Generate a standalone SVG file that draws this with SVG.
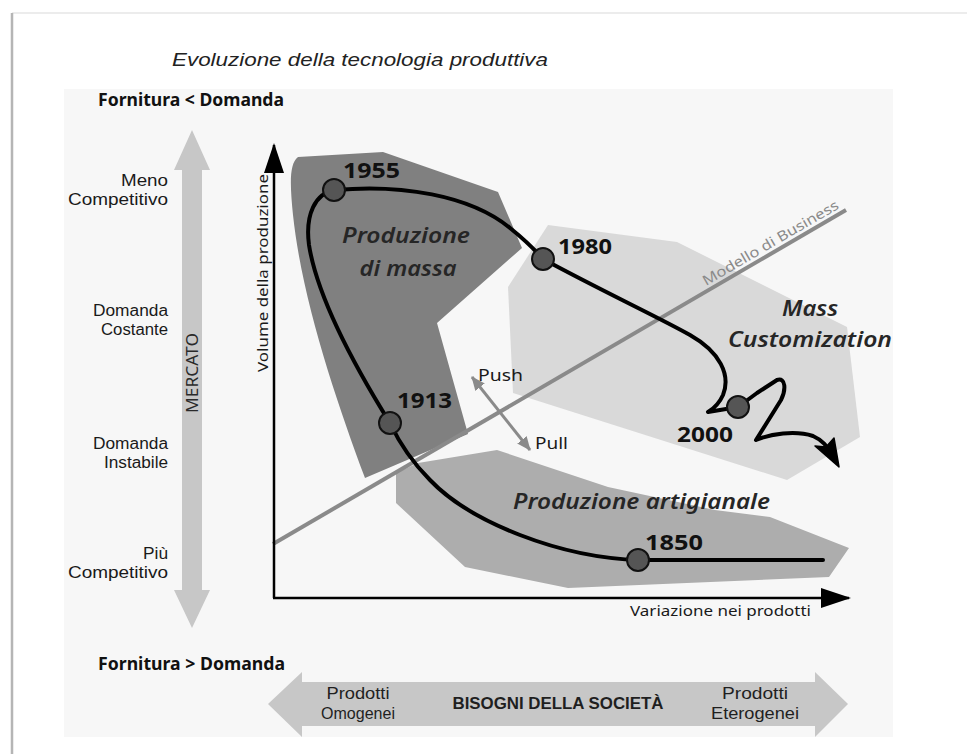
<svg xmlns="http://www.w3.org/2000/svg" width="967" height="754" viewBox="0 0 967 754">
  <style>
    .sans { font-family: "Noto Sans", "Open Sans", "Liberation Sans", sans-serif; }
    .lbl { font-family: "Liberation Sans", Arial, sans-serif; font-size: 16px; fill: #1a1a1a; }
    .year { font-family: "Noto Sans", "Open Sans", "Liberation Sans", sans-serif; font-size: 21px; font-weight: bold; fill: #111; }
    .zone { font-family: "Noto Sans", "Open Sans", "Liberation Sans", sans-serif; font-size: 21px; font-style: italic; font-weight: 600; fill: #262626; }
    .cond { font-family: "Noto Sans", "Liberation Sans", sans-serif; font-size: 17px; font-weight: bold; fill: #111; }
    .axis { stroke: #000; stroke-width: 2.5; fill: none; }
    .curve { stroke: #000; stroke-width: 4; fill: none; stroke-linejoin: round; stroke-linecap: round; }
    .dot { fill: #555; stroke: #111; stroke-width: 2; }
    .band { fill: #c7c7c7; }
  </style>
  <defs>
    <marker id="axisHead" viewBox="0 0 30 20" refX="28" refY="10" markerWidth="30" markerHeight="20" markerUnits="userSpaceOnUse" orient="auto">
      <path d="M0,0 L30,10 L0,20 Z" fill="#000"/>
    </marker>
    <marker id="grayHead" viewBox="0 0 14 12" refX="13" refY="6" markerWidth="14" markerHeight="12" markerUnits="userSpaceOnUse" orient="auto-start-reverse">
      <path d="M0,0 L14,6 L0,12 Z" fill="#8a8a8a"/>
    </marker>
  </defs>

  <!-- page frame -->
  <rect x="0" y="0" width="967" height="754" fill="#ffffff"/>
  <line x1="12" y1="13" x2="967" y2="13" stroke="#e6e6e6" stroke-width="1.5"/>
  <line x1="12" y1="13" x2="12" y2="754" stroke="#b5b5b5" stroke-width="2.5"/>
  <rect x="64" y="89" width="829" height="648" fill="#f7f7f7"/>

  <!-- title -->
  <text x="172" y="66" font-family="Liberation Sans, Arial, sans-serif" font-size="18" font-style="italic" fill="#222" textLength="376" lengthAdjust="spacingAndGlyphs">Evoluzione della tecnologia produttiva</text>

  <text class="cond" x="98" y="106" textLength="186" lengthAdjust="spacingAndGlyphs">Fornitura &lt; Domanda</text>
  <text class="cond" x="98" y="670" textLength="187" lengthAdjust="spacingAndGlyphs">Fornitura &gt; Domanda</text>

  <!-- market scale (vertical double arrow) -->
  <g id="mercato">
    <polygon class="band" points="192,130 210,170 202,170 202,590 210,590 192,628 174,590 182,590 182,170 174,170"/>
    <text class="sans" transform="translate(198,373) rotate(-90)" text-anchor="middle" font-size="16" fill="#2a2a2a" textLength="80" lengthAdjust="spacingAndGlyphs">MERCATO</text>
  </g>

  <g id="market-labels" text-anchor="end">
    <text class="lbl" x="168" y="186" textLength="47" lengthAdjust="spacingAndGlyphs">Meno</text>
    <text class="lbl" x="168" y="205" textLength="100" lengthAdjust="spacingAndGlyphs">Competitivo</text>
    <text class="lbl" x="168" y="316" textLength="75" lengthAdjust="spacingAndGlyphs">Domanda</text>
    <text class="lbl" x="168" y="335" textLength="67" lengthAdjust="spacingAndGlyphs">Costante</text>
    <text class="lbl" x="168" y="449" textLength="75" lengthAdjust="spacingAndGlyphs">Domanda</text>
    <text class="lbl" x="168" y="468" textLength="64" lengthAdjust="spacingAndGlyphs">Instabile</text>
    <text class="lbl" x="168" y="559" textLength="25" lengthAdjust="spacingAndGlyphs">Più</text>
    <text class="lbl" x="168" y="578" textLength="100" lengthAdjust="spacingAndGlyphs">Competitivo</text>
  </g>

  <!-- production regions -->
  <g id="produzione-artigianale">
    <polygon fill="#adadad" points="396,473 418,463 497,450 608,487 715,510 770,517 849,548 829,577 568,588 465,567 396,503"/>
    <text class="zone" x="513" y="509" textLength="257" lengthAdjust="spacingAndGlyphs">Produzione artigianale</text>
  </g>

  <g id="mass-customization">
    <polygon fill="#d9d9d9" points="548,225 677,242 847,327 860,437 787,480 513,393 508,287"/>
    <text class="zone" x="810" y="316" text-anchor="middle" font-weight="bold" fill="#111" textLength="56" lengthAdjust="spacingAndGlyphs">Mass</text>
    <text class="zone" x="810" y="347" text-anchor="middle" font-weight="bold" fill="#111" textLength="164" lengthAdjust="spacingAndGlyphs">Customization</text>
  </g>

  <g id="produzione-di-massa">
    <path fill="#808080" d="M298,157 L383,152 L498,192 L522,248 L437,323 L468,434 L365,478 C336,400 302,300 293,215 C290,185 289,164 298,157 Z"/>
    <text class="zone" x="406" y="243" text-anchor="middle" textLength="128" lengthAdjust="spacingAndGlyphs">Produzione</text>
    <text class="zone" x="408" y="276" text-anchor="middle" textLength="97" lengthAdjust="spacingAndGlyphs">di massa</text>
  </g>

  <!-- business model line -->
  <g id="modello-di-business">
    <line x1="273" y1="544" x2="846" y2="210" stroke="#8a8a8a" stroke-width="4"/>
    <text class="sans" transform="translate(706,286) rotate(-30.24)" font-size="14" fill="#8a8a8a" textLength="155" lengthAdjust="spacingAndGlyphs">Modello di Business</text>
  </g>

  <!-- push / pull -->
  <g id="push-pull">
    <line x1="472" y1="377" x2="530" y2="450" stroke="#8a8a8a" stroke-width="3" marker-start="url(#grayHead)" marker-end="url(#grayHead)"/>
    <text class="sans" x="478" y="381" font-size="16" fill="#1a1a1a" textLength="45" lengthAdjust="spacingAndGlyphs">Push</text>
    <text class="sans" x="535" y="449" font-size="16" fill="#1a1a1a" textLength="33" lengthAdjust="spacingAndGlyphs">Pull</text>
  </g>

  <!-- axes -->
  <g id="axes">
    <line class="axis" x1="274" y1="598" x2="274" y2="145" marker-end="url(#axisHead)"/>
    <line class="axis" x1="273" y1="598" x2="849" y2="598" marker-end="url(#axisHead)"/>
    <text class="sans" transform="translate(268,372) rotate(-90)" font-size="15" fill="#1a1a1a" textLength="198" lengthAdjust="spacingAndGlyphs">Volume della produzione</text>
    <text class="sans" x="630" y="616" font-size="15" fill="#1a1a1a" textLength="181" lengthAdjust="spacingAndGlyphs">Variazione nei prodotti</text>
  </g>

  <!-- evolution path -->
  <g id="connectors">
    <path class="curve" d="M823,560 L640,560 C560,558 470,522 430,480 C410,460 398,440 390,423 C362,378 318,302 309,245 C305,215 315,193 335,190 C400,184 470,195 510,228 C525,240 535,250 543,259 C600,290 660,318 690,335 C720,352 731,375 723,395 C719,404 713,409 708,412 L738,407 L757,393 L777,380 C786,377 786,390 781,400 L756,440 C770,434 795,430 813,436 C822,440 828,447 830,452"/>
    <polygon points="839,467 815,446 826,447 834,438" fill="#000" stroke="#000" stroke-width="1.5" stroke-linejoin="round"/>
  </g>

  <!-- milestones -->
  <g id="y1955"><circle class="dot" cx="334" cy="190" r="11"/><text class="year" x="343" y="178" textLength="57" lengthAdjust="spacingAndGlyphs">1955</text></g>
  <g id="y1980"><circle class="dot" cx="543" cy="259" r="11"/><text class="year" x="558" y="254" textLength="54" lengthAdjust="spacingAndGlyphs">1980</text></g>
  <g id="y1913"><circle class="dot" cx="390" cy="423" r="11"/><text class="year" x="397" y="408" textLength="55" lengthAdjust="spacingAndGlyphs">1913</text></g>
  <g id="y2000"><circle class="dot" cx="738" cy="407" r="11"/><text class="year" x="677" y="442" textLength="56" lengthAdjust="spacingAndGlyphs">2000</text></g>
  <g id="y1850"><circle class="dot" cx="638" cy="560" r="11"/><text class="year" x="645" y="550" textLength="58" lengthAdjust="spacingAndGlyphs">1850</text></g>

  <!-- society needs (horizontal double arrow) -->
  <g id="bisogni">
    <polygon class="band" points="268,704 302,672 302,682 815,682 815,672 848,704 815,737 815,726 302,726 302,737"/>
    <g font-family="Liberation Sans, Arial, sans-serif" font-size="16" fill="#1f1f1f" text-anchor="middle">
      <text x="358" y="699" textLength="63" lengthAdjust="spacingAndGlyphs">Prodotti</text>
      <text x="358" y="719" textLength="74" lengthAdjust="spacingAndGlyphs">Omogenei</text>
      <text x="558" y="709" font-weight="bold" textLength="211" lengthAdjust="spacingAndGlyphs">BISOGNI DELLA SOCIETÀ</text>
      <text x="755" y="699" textLength="66" lengthAdjust="spacingAndGlyphs">Prodotti</text>
      <text x="755" y="719" textLength="88" lengthAdjust="spacingAndGlyphs">Eterogenei</text>
    </g>
  </g>
</svg>
